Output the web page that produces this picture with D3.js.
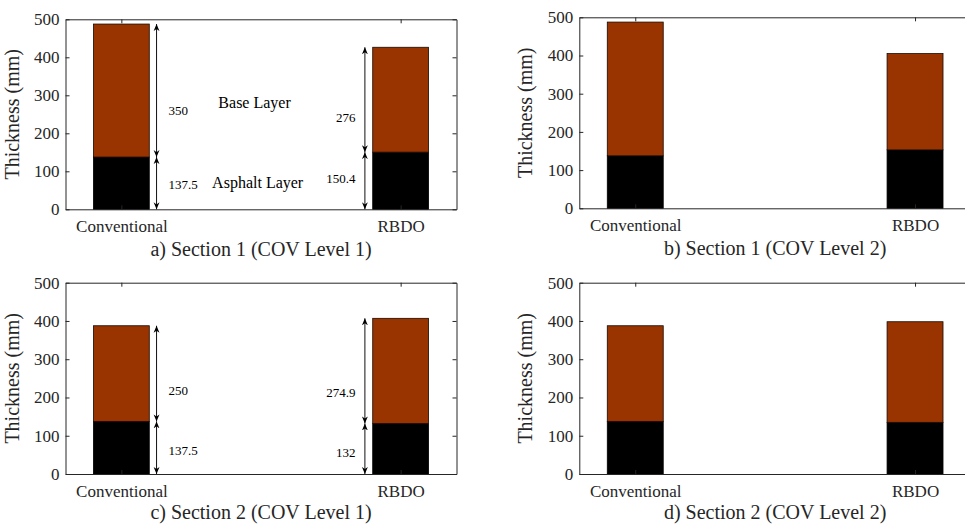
<!DOCTYPE html>
<html>
<head>
<meta charset="utf-8">
<script src="https://cdn.jsdelivr.net/npm/d3@7"></script>
<style>
  html, body { margin: 0; padding: 0; background: #fff; }
  svg, svg text { font-family: "Liberation Serif", "Times New Roman", serif !important; }
</style>
</head>
<body>
<div id="chart"></div>
<script>
// Layer thicknesses (mm) for each design, one entry per panel a..d
var categories = ["Conventional", "RBDO"];
var asphaltLayer = [[137.5, 150.4], [137.5, 153], [137.5, 132], [137.5, 135]];
var baseLayer = [[350, 276], [350, 252], [250, 274.9], [250, 263]];
var panelTitles = [
  "a) Section 1 (COV Level 1)",
  "b) Section 1 (COV Level 2)",
  "c) Section 2 (COV Level 1)",
  "d) Section 2 (COV Level 2)"
];
var yTicks = [0, 100, 200, 300, 400, 500];
// dimension labels next to the arrows (panels a and c only): [asphalt, base] per design
var dimLabels = [[["137.5", "350"], ["150.4", "276"]], null, [["137.5", "250"], ["132", "274.9"]], null];
var layerNames = ["Base Layer", "Asphalt Layer"];

var W = 965, H = 524;
var BASE_COLOR = "#993300", ASPH_COLOR = "#000000", AXIS = "#262626";
var SERIF = "'Liberation Serif', 'Times New Roman', serif";

// plot boxes (pixels); cap = caption baseline below the plot
var boxes = [
  { left: 65.5, top: 19.3, width: 391, height: 190, cap: 47 },
  { left: 579.3, top: 17.3, width: 391.7, height: 191, cap: 47 },
  { left: 65.5, top: 282.7, width: 391, height: 191.3, cap: 45 },
  { left: 579.3, top: 282.7, width: 391.7, height: 191.3, cap: 45 }
];

var svg = d3.select("#chart").append("svg").attr("width", W).attr("height", H)
  .style("font-family", SERIF);

var defs = svg.append("defs");
defs.append("marker").attr("id", "ahead").attr("viewBox", "0 -5 10 10")
  .attr("refX", 10).attr("refY", 0).attr("markerWidth", 7).attr("markerHeight", 7)
  .attr("markerUnits", "userSpaceOnUse").attr("orient", "auto-start-reverse")
  .append("path").attr("d", "M0,-4.2L10,0L0,4.2L3,0Z").attr("fill", "#000");

boxes.forEach(function (b, pi) {
  var g = svg.append("g").attr("transform", "translate(" + b.left + "," + b.top + ")");
  var x = d3.scaleLinear().domain([0.8, 2.2]).range([0, b.width]);
  var y = d3.scaleLinear().domain([0, 500]).range([b.height, 0]);
  var bw = x(1.2) - x(1.0);

  // bars: asphalt at bottom, base stacked on top
  var rows = categories.map(function (c, i) {
    return { i: i, a: asphaltLayer[pi][i], b: baseLayer[pi][i] };
  });
  g.selectAll(".asph").data(rows).enter().append("rect")
    .attr("x", function (d) { return x(d.i + 1) - bw / 2; })
    .attr("width", bw)
    .attr("y", function (d) { return y(d.a); })
    .attr("height", function (d) { return y(0) - y(d.a); })
    .attr("fill", ASPH_COLOR).attr("stroke", "#000").attr("stroke-width", 0.8);
  g.selectAll(".base").data(rows).enter().append("rect")
    .attr("x", function (d) { return x(d.i + 1) - bw / 2; })
    .attr("width", bw)
    .attr("y", function (d) { return y(d.a + d.b); })
    .attr("height", function (d) { return y(d.a) - y(d.a + d.b); })
    .attr("fill", BASE_COLOR).attr("stroke", "#1a0a00").attr("stroke-width", 0.8);

  function styleAxis(sel) {
    sel.attr("font-family", null).style("font-family", SERIF);
    sel.select(".domain").attr("stroke", AXIS).attr("stroke-width", 1);
    sel.selectAll(".tick line").attr("stroke", AXIS);
    sel.selectAll("text").attr("fill", AXIS).style("font-size", "17px").style("font-family", SERIF);
  }

  // box with inward ticks (MATLAB style)
  g.append("g").attr("transform", "translate(0," + b.height + ")")
    .call(d3.axisBottom(x).tickValues([1, 2]).tickSizeInner(-4).tickSizeOuter(0).tickPadding(11)
      .tickFormat(function (d) { return categories[d - 1]; }))
    .call(styleAxis);
  g.append("g")
    .call(d3.axisTop(x).tickValues([1, 2]).tickSizeInner(-4).tickSizeOuter(0).tickFormat(""))
    .call(styleAxis);
  g.append("g")
    .call(d3.axisLeft(y).tickValues(yTicks).tickSizeInner(-4).tickSizeOuter(0).tickPadding(6))
    .call(styleAxis);
  g.append("g").attr("transform", "translate(" + b.width + ",0)")
    .call(d3.axisRight(y).tickValues(yTicks).tickSizeInner(-4).tickSizeOuter(0).tickFormat(""))
    .call(styleAxis);

  // y label
  g.append("text")
    .attr("transform", "translate(" + (-47) + "," + (b.height / 2) + ") rotate(-90)")
    .attr("text-anchor", "middle").style("font-size", "20px").attr("fill", AXIS)
    .text("Thickness (mm)");

  // panel caption
  g.append("text").attr("x", b.width / 2).attr("y", b.height + b.cap)
    .attr("text-anchor", "middle").style("font-size", "20px").attr("fill", AXIS)
    .text(panelTitles[pi]);

  // dimension arrows
  var labels = dimLabels[pi];
  if (!labels) return;
  var arrowX = [1.126, 1.872];
  var labelX = [1.169, 1.838];
  var labelAnchor = ["start", "end"];
  var labelY = pi === 0
    ? [[53, 247], [69, 230]]
    : [[50, 207], [44.5, 201]];
  rows.forEach(function (d) {
    var ax = x(arrowX[d.i]);
    [[0, d.a], [d.a, d.a + d.b]].forEach(function (seg) {
      g.append("line").attr("x1", ax).attr("x2", ax)
        .attr("y1", y(seg[0])).attr("y2", y(seg[1]))
        .attr("stroke", "#111").attr("stroke-width", 1)
        .attr("marker-start", "url(#ahead)").attr("marker-end", "url(#ahead)");
    });
    labels[d.i].forEach(function (t, k) {
      g.append("text").attr("x", x(labelX[d.i])).attr("y", y(labelY[d.i][k]))
        .attr("text-anchor", labelAnchor[d.i]).style("font-size", "13px").attr("fill", "#000")
        .text(t);
    });
  });
  if (pi === 0) {
    g.append("text").attr("x", x(1.477)).attr("y", y(266)).attr("text-anchor", "middle")
      .style("font-size", "16px").attr("fill", "#000").text(layerNames[0]);
    g.append("text").attr("x", x(1.488)).attr("y", y(55)).attr("text-anchor", "middle")
      .style("font-size", "16px").attr("fill", "#000").text(layerNames[1]);
  }
});
</script>
</body>
</html>
